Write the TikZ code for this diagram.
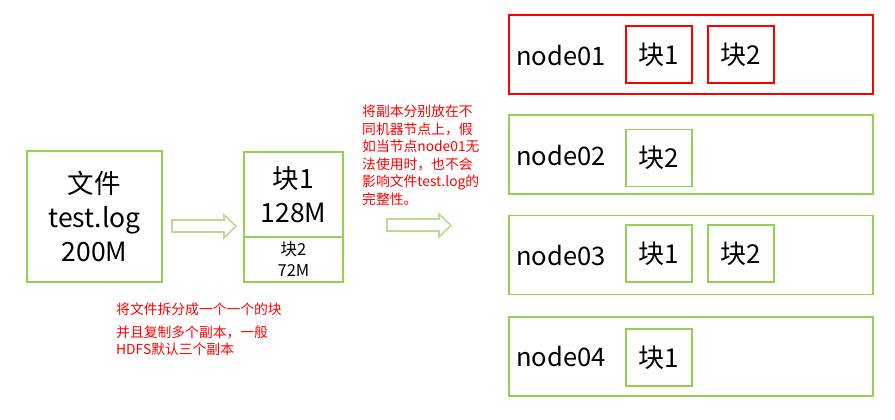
\documentclass[tikz,border=0pt]{standalone}
\usepackage{fontspec}
\setmainfont{Noto Sans CJK SC}
\definecolor{hgreen}{HTML}{92D050}
\definecolor{agreen}{HTML}{B8DC8E}
\definecolor{hred}{HTML}{FF0000}
\begin{document}
\begin{tikzpicture}[x=1pt,y=-1pt,
  gbox/.style={draw=hgreen, line width=1.2pt, rectangle, inner sep=0pt, align=center},
  rbox/.style={draw=hred, line width=1.2pt, rectangle, inner sep=0pt, align=center},
  srv/.style={minimum width=364pt, minimum height=79pt},
  blk/.style={minimum width=66pt, minimum height=57pt, font=\fontsize{26}{30}\selectfont},
  lbl/.style={anchor=west, inner sep=0pt, font=\fontsize{25.5}{30}\selectfont},
  note/.style={text=hred, font=\fontsize{13.8}{17.5}\selectfont, align=left, inner sep=0pt},
  barrow/.style={draw=agreen, line width=1.6pt, fill=white, line join=miter}]
\useasboundingbox (0,0) rectangle (895,420);
% file
\node[gbox, minimum width=135pt, minimum height=131pt, font=\fontsize{26.5}{34}\selectfont] (file) at (94.5,216.5) {文件\\test.log\\200M};
% blocks
\node[gbox, minimum width=99pt, minimum height=85pt, font=\fontsize{26.5}{34}\selectfont] (b1) at (293.5,194.5) {块1\\128M};
\node[gbox, minimum width=99pt, minimum height=45pt, font=\fontsize{16.5}{21}\selectfont] (b2) at (293.5,259.5) {块2\\72M};
% block arrows
\draw[barrow] (172,220) -- (224,220) -- (224,215) -- (236,226) -- (224,238) -- (224,232) -- (172,232) -- cycle;
\draw[barrow] (387,219) -- (439,219) -- (439,214) -- (451,225.5) -- (439,237) -- (439,231) -- (387,231) -- cycle;
% notes
\node[note, anchor=north west] (n1) at (362,105) {将副本分别放在不\\同机器节点上，假\\如当节点node01无\\法使用时，也不会\\影响文件test.log的\\完整性。};
\node[note, anchor=west] (n2) at (116,309) {将文件拆分成一个一个的块};
\node[note, anchor=north west, font=\fontsize{13.8}{16.5}\selectfont] (n3) at (116,326) {并且复制多个副本，一般\\HDFS默认三个副本};
% servers
\node[rbox, srv] (s1) at (691,54.5) {};
\node[gbox, srv] (s2) at (691,154.5) {};
\node[gbox, srv] (s3) at (691,255) {};
\node[gbox, srv] (s4) at (691,356.5) {};
\node[lbl] (l1) at (516,56) {node01};
\node[lbl] (l2) at (516,156) {node02};
\node[lbl] (l3) at (516,256) {node03};
\node[lbl] (l4) at (516,357) {node04};
\node[rbox, blk] (s1a) at (659,54.5) {块1};
\node[rbox, blk] (s1b) at (741,54.5) {块2};
\node[gbox, blk] (s2a) at (659,158) {块2};
\node[gbox, blk] (s3a) at (659,253.5) {块1};
\node[gbox, blk] (s3b) at (741,253.5) {块2};
\node[gbox, blk] (s4a) at (659,357.5) {块1};
\end{tikzpicture}
\end{document}
